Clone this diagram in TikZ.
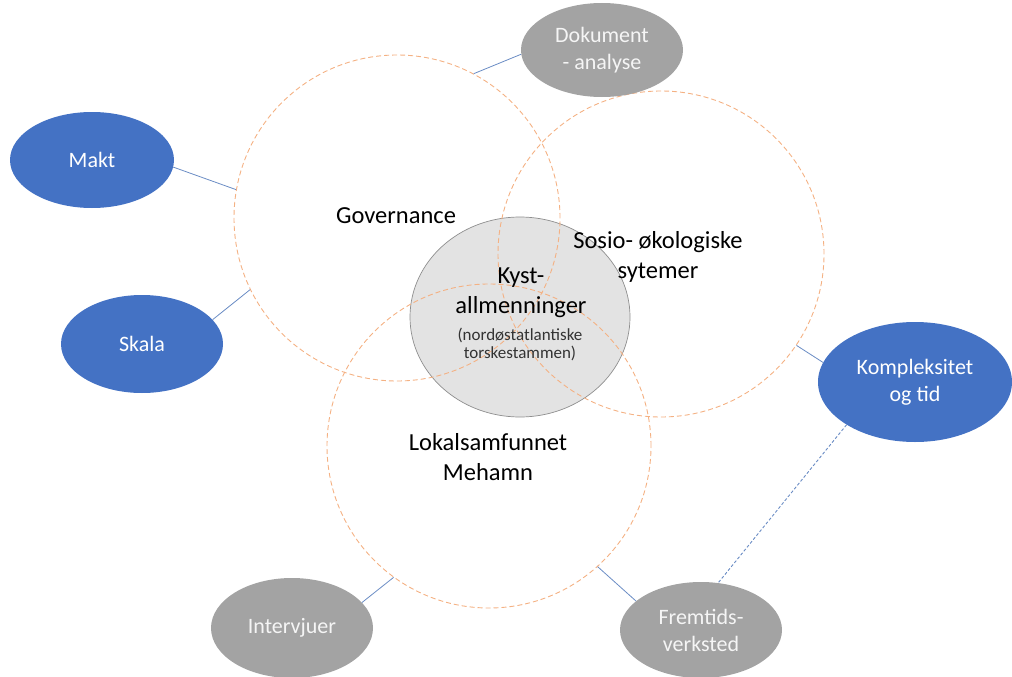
\documentclass[tikz,border=0pt]{standalone}
\usepackage{fontspec}
\setmainfont{Carlito}
\usetikzlibrary{shapes.geometric}
\definecolor{cblue}{HTML}{4472C4}
\definecolor{cgray}{HTML}{A3A3A3}
\definecolor{ccenter}{HTML}{E3E3E3}
\definecolor{cborder}{HTML}{8E8E8E}
\definecolor{corange}{HTML}{F4B183}
\definecolor{cline}{HTML}{6A8CC4}
\begin{document}
\begin{tikzpicture}[x=1pt,y=-1pt,
  ring/.style={circle, draw=corange, dash pattern=on 5pt off 3pt, line width=0.9pt, minimum size=#1, inner sep=0pt},
  bigtxt/.style={font=\fontsize{24.5}{30}\selectfont, align=center, text=black, inner sep=0pt},
  smalltxt/.style={font=\fontsize{17}{18}\selectfont, align=center, text=black!80, inner sep=0pt},
  oval/.style={ellipse, inner sep=0pt, align=center, text=white, font=\fontsize{22}{27}\selectfont},
  blueoval/.style={oval, fill=cblue},
  grayoval/.style={oval, fill=cgray, text=white!96!black},
  conn/.style={draw=cline, line width=0.8pt},
  dconn/.style={draw=cline, line width=0.9pt, dash pattern=on 3pt off 2pt}
]
\useasboundingbox (0,0) rectangle (1012,677);

% central grey ellipse
\node[ellipse, fill=ccenter, draw=cborder, line width=0.7pt, minimum width=220pt, minimum height=200pt, inner sep=0pt] (kyst) at (520,317) {};

% dashed rings
\node[ring=326pt] (gov) at (397,218) {};
\node[ring=326pt] (sos) at (661,254) {};
\node[ring=324pt] (lok) at (489,446) {};

% texts
\node[bigtxt] (govtxt) at (396,216) {Governance};
\node[bigtxt] (sostxt) at (658,257) {Sosio- økologiske\\sytemer};
\node[bigtxt] (loktxt) at (488,457) {Lokalsamfunnet\\Mehamn};
\node[bigtxt] (kysttxt) at (521,293) {Kyst-\\allmenninger};
\node[smalltxt] (kystsub) at (520,344) {(nordøstatlantiske\\torskestammen)};

% outer ellipses
\node[blueoval, minimum width=164pt, minimum height=96pt] (makt) at (92,160) {Makt};
\node[blueoval, minimum width=162pt, minimum height=98pt] (skala) at (142,344) {Skala};
\node[blueoval, minimum width=194pt, minimum height=120pt] (komp) at (915,382) {Kompleksitet\\og tid};
\node[grayoval, minimum width=162pt, minimum height=94pt] (dok) at (602,50) {Dokument\\- analyse};
\node[grayoval, minimum width=162pt, minimum height=100pt] (interv) at (292,628) {Intervjuer};
\node[grayoval, minimum width=162pt, minimum height=96pt] (frem) at (701,630) {Fremtids-\\verksted};

% connectors
\draw[conn] (makt.-5.7) -- (gov.170.3);
\draw[conn] (skala.19.6) -- (gov.206.4);
\draw[conn] (dok.183.6) -- (gov.62.3);
\draw[conn] (komp.168.5) -- (sos.-34.2);
\draw[conn] (interv.20.4) -- (lok.234.1);
\draw[conn] (frem.156) -- (lok.-48.5);
\draw[dconn] (komp.212.3) -- (frem.70.4);
\end{tikzpicture}
\end{document}
